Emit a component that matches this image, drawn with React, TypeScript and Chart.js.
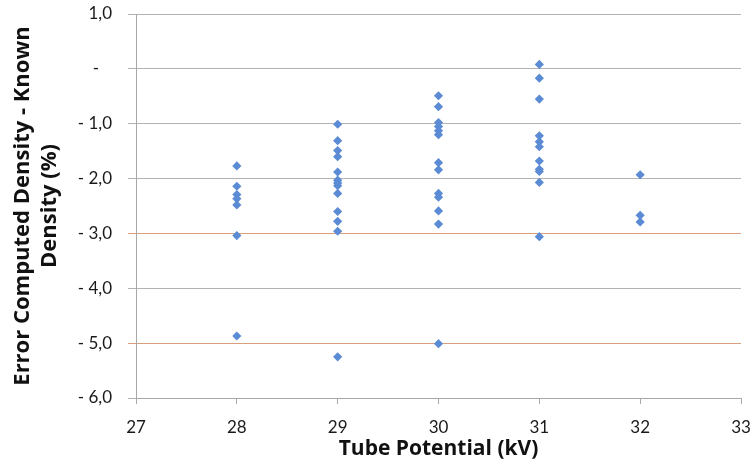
import React, { useEffect, useRef } from "react";
import { Chart, registerables } from "chart.js";

Chart.register(...registerables);

// Error (%) readings at each tube potential (kV)
const tubePotentials = [28, 29, 30, 31, 32];
const errAt28 = [-1.77, -2.14, -2.29, -2.37, -2.48, -3.04, -4.87];
const errAt29 = [-1.01, -1.31, -1.49, -1.6, -1.88, -2.03, -2.08, -2.13, -2.27, -2.6, -2.78, -2.96, -5.25];
const errAt30 = [-0.49, -0.69, -0.98, -1.05, -1.13, -1.2, -1.71, -1.84, -2.27, -2.34, -2.59, -2.83, -5.01];
const errAt31 = [0.08, -0.17, -0.55, -1.22, -1.33, -1.42, -1.68, -1.83, -1.87, -2.07, -3.06];
const errAt32 = [-1.93, -2.67, -2.79];
const errorSeries = [errAt28, errAt29, errAt30, errAt31, errAt32];

const xTitle = "Tube Potential (kV)";
const yTitleLines = ["Error Computed Density - Known", "Density (%)"];
const xMin = 27;
const xMax = 33;
const yMin = -6;
const yMax = 1;
const accentGridValues = [-3, -5];

const TICK_FONT = "Lato, 'Open Sans', 'DejaVu Sans', sans-serif";
const TITLE_FONT = "'Open Sans', Lato, 'DejaVu Sans', sans-serif";

function formatY(v: number): string {
  if (Math.abs(v) < 1e-9) return "-   ";
  const s = Math.abs(v).toFixed(1).replace(".", ",");
  return v < 0 ? "- " + s : s;
}

export default function App() {
  const canvasRef = useRef<HTMLCanvasElement | null>(null);

  useEffect(() => {
    document.body.style.margin = "0";
    const canvas = canvasRef.current;
    if (!canvas) return;
    const points: { x: number; y: number }[] = [];
    tubePotentials.forEach((kv, i) => {
      errorSeries[i].forEach((v) => points.push({ x: kv, y: v }));
    });

    const chart = new Chart(canvas, {
      type: "scatter",
      data: {
        datasets: [
          {
            label: "Error",
            data: points,
            pointStyle: "rectRot",
            pointRadius: 4.6,
            pointHoverRadius: 4.6,
            backgroundColor: "#5b8bd4",
            borderColor: "#5b8bd4",
            borderWidth: 0,
          },
        ],
      },
      options: {
        animation: false,
        responsive: false,
        maintainAspectRatio: false,
        layout: { padding: { top: 14, right: 14, left: 0, bottom: 0 } },
        plugins: {
          legend: { display: false },
          tooltip: { enabled: false },
        },
        scales: {
          x: {
            type: "linear",
            min: xMin,
            max: xMax,
            afterFit: (scale: any) => {
              scale.height = 68;
              scale.paddingLeft = 0;
              scale.paddingRight = 0;
            },
            ticks: {
              stepSize: 1,
              color: "#1a1a1a",
              font: { family: TICK_FONT, size: 17 },
              padding: 13,
              maxRotation: 0,
            },
            grid: {
              drawOnChartArea: false,
              drawTicks: true,
              tickLength: 6,
              color: "#a8a8a8",
            },
            border: { display: true, color: "#a8a8a8", width: 1 },
            title: {
              display: true,
              text: xTitle,
              color: "#111",
              font: { family: TITLE_FONT, size: 21, weight: "bold" },
              padding: { top: 0, bottom: 4 },
            },
          },
          y: {
            type: "linear",
            min: yMin,
            max: yMax,
            afterFit: (scale: any) => {
              scale.width = 136;
              scale.paddingTop = 0;
              scale.paddingBottom = 0;
            },
            ticks: {
              stepSize: 1,
              color: "#1a1a1a",
              font: { family: TICK_FONT, size: 17 },
              padding: 16,
              callback: (v: any) => formatY(Number(v)),
            },
            grid: {
              drawTicks: true,
              tickLength: 8,
              lineWidth: 1,
              color: (ctx: any) => {
                const v = ctx.tick ? ctx.tick.value : null;
                if (v !== null && accentGridValues.includes(v)) return "#d9a07e";
                return "#b3b3b3";
              },
            },
            border: { display: true, color: "#a8a8a8", width: 1 },
            title: {
              display: true,
              text: yTitleLines,
              color: "#111",
              font: { family: TITLE_FONT, size: 22, weight: "bold" },
              padding: { top: 10, bottom: 0 },
            },
          },
        },
      },
    });
    return () => chart.destroy();
  }, []);

  return (
    <div style={{ width: 755, height: 466 }}>
      <canvas ref={canvasRef} width={755} height={466} style={{ display: "block" }} />
    </div>
  );
}
